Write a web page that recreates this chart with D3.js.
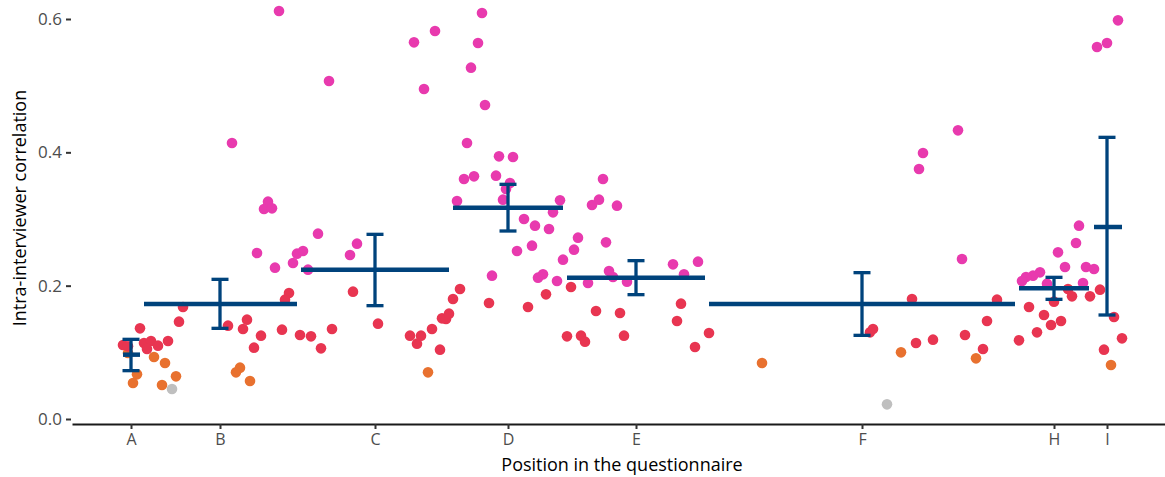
<!DOCTYPE html>
<html lang="en">
<head>
	<meta charset="UTF-8"/>
	<title>Intra-interviewer correlation by position</title>
	<script src="https://d3js.org/d3.v7.min.js"></script>
	<style>
		body { margin: 0; background: #fff; }
		text { font-family: "Open Sans", sans-serif; }
	</style>
</head>
<body>
	<script>
		var w = 1165;
		var h = 477;

		// section labels and where they sit in the questionnaire
		var sectionLabels = ["A", "B", "C", "D", "E", "F", "H", "I"];
		var sectionTicks = [5.9, 14.8, 30.3, 43.6, 56.4, 79.0, 98.2, 103.5];
		var sectionStart = [5.1, 7.2, 22.9, 38.1, 49.5, 63.7, 94.7, 102.2];
		var sectionEnd = [6.8, 22.5, 37.7, 49.1, 63.3, 94.3, 101.7, 105.0];
		var sectionMean = [0.0965, 0.1725, 0.224, 0.317, 0.212, 0.1725, 0.196, 0.288];
		var sectionLower = [0.0725, 0.136, 0.170, 0.282, 0.1865, 0.1255, 0.1795, 0.156];
		var sectionUpper = [0.1195, 0.2095, 0.277, 0.352, 0.2375, 0.2195, 0.2125, 0.4225];

		var yTicks = [0, 0.2, 0.4, 0.6];

		// items: [position, correlation], one list per colour class
		var itemsHigh = [
			[16.0, 0.414], [20.7, 0.612], [19.6, 0.326], [19.2, 0.315], [20.0, 0.316],
			[24.6, 0.278], [18.5, 0.249], [20.3, 0.227], [22.5, 0.248], [23.1, 0.252],
			[22.1, 0.234], [23.6, 0.224], [25.7, 0.507], [27.8, 0.246], [28.5, 0.263],
			[34.2, 0.565], [36.3, 0.582], [35.2, 0.495], [41.0, 0.609], [40.6, 0.564],
			[39.9, 0.527], [41.3, 0.471], [39.5, 0.414], [42.7, 0.394], [44.1, 0.393],
			[39.2, 0.360], [40.2, 0.364], [42.4, 0.365], [43.4, 0.345], [43.8, 0.354],
			[38.5, 0.327], [43.1, 0.329], [48.8, 0.328], [48.1, 0.310], [45.2, 0.300],
			[46.3, 0.290], [47.7, 0.285], [44.5, 0.252], [46.0, 0.260], [42.0, 0.215],
			[49.1, 0.239], [50.2, 0.254], [50.6, 0.272], [46.6, 0.212], [47.1, 0.217],
			[48.5, 0.207], [52.0, 0.321], [52.7, 0.329], [53.1, 0.360], [54.5, 0.320],
			[53.4, 0.265], [51.6, 0.204], [53.7, 0.222], [54.1, 0.213], [55.5, 0.206],
			[60.1, 0.232], [62.6, 0.236], [61.2, 0.217], [88.6, 0.433], [85.1, 0.399],
			[84.7, 0.375], [89.0, 0.240], [100.7, 0.290], [100.4, 0.264], [98.6, 0.250],
			[99.3, 0.228], [96.8, 0.220], [96.1, 0.215], [95.4, 0.213], [95.0, 0.207],
			[101.4, 0.228], [102.2, 0.225], [101.1, 0.204], [97.5, 0.203], [104.6, 0.598],
			[102.5, 0.558], [103.5, 0.564]
		];
		var itemsMedium = [
			[5.1, 0.111], [5.6, 0.109], [6.8, 0.136], [7.2, 0.114], [7.9, 0.117],
			[7.5, 0.105], [8.6, 0.110], [9.6, 0.117], [10.7, 0.146], [11.1, 0.168],
			[15.6, 0.140], [17.5, 0.149], [17.1, 0.135], [18.9, 0.125], [18.2, 0.107],
			[21.0, 0.134], [21.7, 0.189], [21.3, 0.179], [22.8, 0.126], [23.9, 0.124],
			[26.0, 0.135], [24.9, 0.106], [28.1, 0.191], [30.6, 0.143], [33.8, 0.125],
			[34.9, 0.125], [34.5, 0.113], [36.0, 0.135], [37.0, 0.151], [37.4, 0.150],
			[37.7, 0.158], [38.1, 0.180], [38.8, 0.195], [36.8, 0.104], [41.7, 0.174],
			[45.6, 0.168], [47.4, 0.187], [49.9, 0.198], [52.4, 0.162], [54.8, 0.159],
			[49.5, 0.124], [50.9, 0.125], [51.3, 0.116], [55.2, 0.125], [60.9, 0.173],
			[60.5, 0.147], [63.7, 0.129], [62.3, 0.108], [84.0, 0.180], [92.5, 0.179],
			[79.8, 0.130], [80.1, 0.135], [84.4, 0.114], [86.1, 0.119], [89.3, 0.126],
			[91.5, 0.147], [91.1, 0.105], [99.6, 0.195], [100.0, 0.184], [102.8, 0.194],
			[101.8, 0.184], [98.2, 0.176], [95.7, 0.168], [97.2, 0.156], [97.9, 0.141],
			[98.9, 0.147], [96.5, 0.130], [94.7, 0.118], [104.2, 0.153], [105.0, 0.121],
			[103.2, 0.104]
		];
		var itemsLow = [
			[5.6, 0.099], [8.2, 0.093], [9.3, 0.084], [6.5, 0.067], [6.1, 0.054],
			[10.4, 0.064], [9.0, 0.051], [16.8, 0.077], [16.4, 0.070], [17.8, 0.057],
			[35.6, 0.070], [69.0, 0.084], [82.9, 0.100], [90.4, 0.091], [103.9, 0.081]
		];
		var itemsNone = [[10.0, 0.045], [81.5, 0.022]];

		var classNames = ["none", "low", "medium", "high"];
		var classColors = ["#bfbfbf", "#e8712f", "#e83551", "#e83aae"];
		var classItems = [itemsNone, itemsLow, itemsMedium, itemsHigh];

		var barColor = "#00437c";

		var xScale = d3.scaleLinear()
			.domain([0, 109.3])
			.range([72, 1165]);

		var yScale = d3.scaleLinear()
			.domain([0, 0.6])
			.range([419, 19]);

		var color = d3.scaleOrdinal()
			.domain(classNames)
			.range(classColors);

		var svg = d3.select("body")
			.append("svg")
			.attr("width", w)
			.attr("height", h);

		// flatten the classes into one list of points
		var points = [];
		classItems.forEach(function(list, i) {
			list.forEach(function(d) {
				points.push({ pos: d[0], icc: d[1], cls: classNames[i] });
			});
		});

		svg.append("g")
			.selectAll("circle")
			.data(points)
			.enter()
			.append("circle")
			.attr("cx", function(d) { return xScale(d.pos); })
			.attr("cy", function(d) { return yScale(d.icc); })
			.attr("r", 5.3)
			.attr("fill", function(d) { return color(d.cls); });

		// section summaries: span line, error bar, caps
		var sections = sectionLabels.map(function(l, i) {
			return {
				label: l, tick: sectionTicks[i], start: sectionStart[i], end: sectionEnd[i],
				mean: sectionMean[i], lo: sectionLower[i], hi: sectionUpper[i]
			};
		});

		var bars = svg.append("g")
			.selectAll("g")
			.data(sections)
			.enter()
			.append("g")
			.attr("stroke", barColor)
			.attr("fill", "none");

		bars.append("line")
			.attr("x1", function(d) { return xScale(d.start); })
			.attr("x2", function(d) { return xScale(d.end); })
			.attr("y1", function(d) { return yScale(d.mean); })
			.attr("y2", function(d) { return yScale(d.mean); })
			.attr("stroke-width", 4.5);

		bars.append("line")
			.attr("x1", function(d) { return xScale(d.tick); })
			.attr("x2", function(d) { return xScale(d.tick); })
			.attr("y1", function(d) { return yScale(d.lo); })
			.attr("y2", function(d) { return yScale(d.hi); })
			.attr("stroke-width", 3.3);

		["lo", "hi"].forEach(function(k) {
			bars.append("line")
				.attr("x1", function(d) { return xScale(d.tick) - 8.5; })
				.attr("x2", function(d) { return xScale(d.tick) + 8.5; })
				.attr("y1", function(d) { return yScale(d[k]); })
				.attr("y2", function(d) { return yScale(d[k]); })
				.attr("stroke-width", 3.3);
		});

		// y axis: ticks and labels only
		var yAxis = svg.append("g")
			.attr("transform", "translate(71,0)")
			.call(d3.axisLeft(yScale).tickValues(yTicks).tickFormat(d3.format(".1f")).tickSize(5).tickPadding(4));
		yAxis.select(".domain").remove();
		yAxis.selectAll(".tick line").attr("stroke", "#333").attr("stroke-width", 2);
		yAxis.selectAll("text").attr("fill", "#4d4d4d").style("font-size", "17px");

		// x axis with section letters
		var xAxis = svg.append("g")
			.attr("transform", "translate(0,424)")
			.call(d3.axisBottom(xScale).tickValues(sectionTicks)
				.tickFormat(function(d, i) { return sectionLabels[i]; })
				.tickSize(5).tickPadding(5).tickSizeOuter(0));
		xAxis.select(".domain").attr("stroke", "#1a1a1a").attr("stroke-width", 2);
		xAxis.selectAll(".tick line").attr("stroke", "#333").attr("stroke-width", 2);
		xAxis.selectAll("text").attr("fill", "#4d4d4d").style("font-size", "16px");

		svg.append("text")
			.attr("x", 622)
			.attr("y", 471)
			.attr("text-anchor", "middle")
			.style("font-size", "18px")
			.attr("fill", "#000")
			.text("Position in the questionnaire");

		svg.append("text")
			.attr("transform", "translate(26,208) rotate(-90)")
			.attr("text-anchor", "middle")
			.style("font-size", "18px")
			.attr("fill", "#000")
			.text("Intra-interviewer correlation");
	</script>
</body>
</html>
